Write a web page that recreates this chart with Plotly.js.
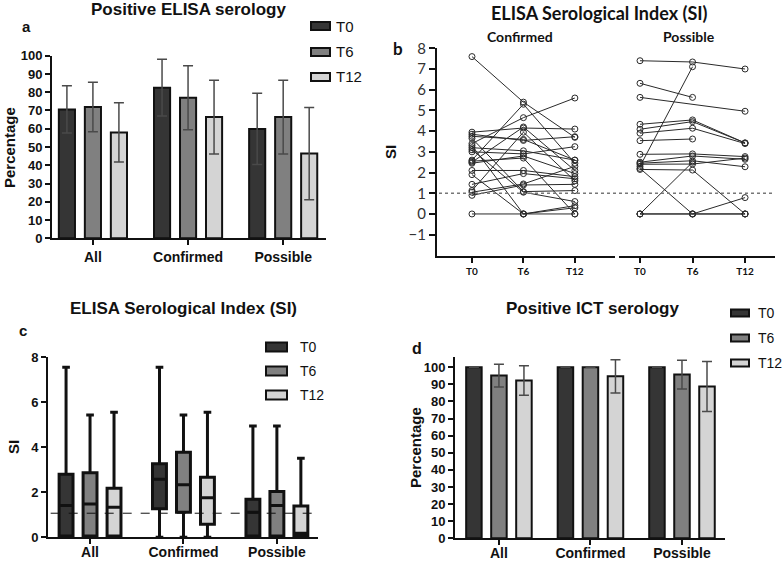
<!DOCTYPE html>
<html>
<head>
<meta charset="utf-8">
<script src="https://cdn.plot.ly/plotly-3.0.1.min.js"></script>
<style>html,body{margin:0;padding:0;background:#fff;}#chart{width:784px;height:561px;}</style>
</head>
<body>
<div id="chart"></div>
<script>
// ---------- data ----------
const groups = ['All', 'Confirmed', 'Possible'];
const timepoints = ['T0', 'T6', 'T12'];

// Panel a: Positive ELISA serology (%)
const elisaT0 = [70.6, 82.5, 59.9];
const elisaT0Err = [13.0, 15.5, 19.5];
const elisaT6 = [71.9, 77.0, 66.4];
const elisaT6Err = [13.5, 17.5, 20.2];
const elisaT12 = [58.0, 66.4, 46.4];
const elisaT12Err = [16.2, 20.2, 25.3];

// Panel d: Positive ICT serology (%)
const ictT0 = [100, 100, 100];
const ictT0Err = [0, 0, 0];
const ictT6 = [95.1, 100, 95.7];
const ictT6Err = [6.6, 0, 8.4];
const ictT12 = [92.2, 94.7, 88.7];
const ictT12Err = [8.6, 9.7, 14.6];

// Panel c: SI box plots (lower whisker, q1, median, q3, upper whisker)
const boxT0Low = [0, 0, 0];
const boxT0Q1 = [0.06, 1.27, 0.06];
const boxT0Med = [1.41, 2.58, 1.11];
const boxT0Q3 = [2.80, 3.27, 1.69];
const boxT0High = [7.56, 7.56, 4.95];
const boxT6Low = [0, 0, 0];
const boxT6Q1 = [0.06, 1.11, 0.06];
const boxT6Med = [1.48, 2.33, 1.41];
const boxT6Q3 = [2.87, 3.78, 2.03];
const boxT6High = [5.44, 5.44, 4.95];
const boxT12Low = [0, 0, 0];
const boxT12Q1 = [0.06, 0.58, 0.06];
const boxT12Med = [1.33, 1.76, 0.18];
const boxT12Q3 = [2.18, 2.67, 1.39];
const boxT12High = [5.56, 5.56, 3.51];
const siCutoffC = 1.07;

// Panel b: individual SI trajectories
const confT0 = [7.6, 3.95, 3.85, 3.75, 3.65, 3.4, 3.3, 3.1, 3.0, 2.6, 2.5, 2.45, 2.1, 1.9, 1.43, 1.13, 1.05, 0.9, 0, 2.55, 3.2];
const confT6 = [5.4, 4.15, 3.55, 3.6, 1.08, 4.65, 0, 1.05, 2.9, 5.3, 4.2, 2.8, 2.1, 0, 1.95, 3.95, 1.45, 1.4, 0, 2.7, 3.05];
const confT12 = [3.7, 4.1, 3.73, 2.6, 1.13, 5.6, 0.4, 0.6, 3.25, 2.45, 2.1, 1.95, 1.8, 0.3, 1.7, 1.6, 2.3, 1.43, 0, 0, 2.6];
const possT0 = [7.4, 6.31, 5.63, 4.33, 4.09, 3.9, 3.54, 2.88, 2.5, 2.45, 2.4, 2.3, 2.2, 2.15, 0, 0, 0];
const possT6 = [7.34, 5.63, null, 4.54, 4.46, 4.14, 3.62, 2.9, 2.8, 2.57, 2.41, 7.11, 0, 2.12, 2.5, 0, 0];
const possT12 = [7.0, null, 4.96, 3.43, 3.43, 3.40, null, 2.77, 2.64, 2.28, 2.7, null, 0, 0, null, 0.79, 0];
const siCutoffB = 1.0;

// ---------- styles ----------
const fills = ['#353535', '#808080', '#d4d4d4'];
const AR = 'Liberation Sans, Arial, sans-serif';
const CAL = 'Lato, Carlito, sans-serif';
const traces = [];

function barSet(vals, errs, xa, ya) {
  vals.forEach((v, i) => {
    traces.push({
      type: 'bar', x: groups, y: v, name: timepoints[i], xaxis: xa, yaxis: ya,
      marker: {color: fills[i], line: {color: '#111', width: 2}},
      error_y: {type: 'data', array: errs[i], visible: true, color: '#4a4a4a', thickness: 1.5, width: 5},
      showlegend: false, hoverinfo: 'skip'
    });
  });
}
barSet([elisaT0, elisaT6, elisaT12], [elisaT0Err, elisaT6Err, elisaT12Err], 'x', 'y');
barSet([ictT0, ictT6, ictT12], [ictT0Err, ictT6Err, ictT12Err], 'x5', 'y5');

const boxes = [
  [boxT0Low, boxT0Q1, boxT0Med, boxT0Q3, boxT0High],
  [boxT6Low, boxT6Q1, boxT6Med, boxT6Q3, boxT6High],
  [boxT12Low, boxT12Q1, boxT12Med, boxT12Q3, boxT12High]
];
boxes.forEach((b, i) => {
  traces.push({
    type: 'box', x: groups, lowerfence: b[0], q1: b[1], median: b[2], q3: b[3], upperfence: b[4],
    name: timepoints[i], xaxis: 'x4', yaxis: 'y4', fillcolor: fills[i],
    line: {color: '#111', width: 3}, whiskerwidth: 0.55, boxpoints: false,
    showlegend: false, hoverinfo: 'skip'
  });
});

function spaghetti(t0, t6, t12, xa) {
  t0.forEach((v, i) => {
    traces.push({
      type: 'scatter', mode: 'lines+markers', x: timepoints, y: [t0[i], t6[i], t12[i]],
      xaxis: xa, yaxis: 'y2', connectgaps: true,
      line: {color: '#2a2a2a', width: 1},
      marker: {symbol: 'circle-open', size: 6, color: '#2a2a2a', line: {width: 1}},
      showlegend: false, hoverinfo: 'skip', cliponaxis: false
    });
  });
}
spaghetti(confT0, confT6, confT12, 'x2');
spaghetti(possT0, possT6, possT12, 'x3');

// ---------- layout ----------
const W = 784, H = 561;
const px = v => v / W, py = v => 1 - v / H;

const baseAx = {
  showline: true, linecolor: '#111', linewidth: 2, ticks: 'outside', ticklen: 5, tickwidth: 2,
  tickcolor: '#111', showgrid: false, zeroline: false, fixedrange: true
};
const catX = (dom, anchor, range, size, standoff) => Object.assign({}, baseAx, {
  domain: dom, anchor: anchor, type: 'category', range: range, ticklabelstandoff: standoff,
  tickfont: {family: AR, size: size, color: '#111', weight: 'bold'}
});

const layout = {
  width: W, height: H, margin: {l: 0, r: 0, t: 0, b: 0},
  paper_bgcolor: '#fff', plot_bgcolor: 'rgba(0,0,0,0)', showlegend: false,
  barmode: 'group', bargap: 0.18, bargroupgap: 0.38,
  boxmode: 'group', boxgap: 0.23, boxgroupgap: 0.42,
  xaxis: catX([px(52), px(326)], 'y', [-0.43, 2.45], 14, 0),
  yaxis: Object.assign({}, baseAx, {domain: [py(238.3), py(55.7)], anchor: 'x', range: [0, 100], dtick: 10,
    tickfont: {family: AR, size: 13, color: '#111', weight: 'bold'}}),
  xaxis2: Object.assign({}, baseAx, {domain: [px(437), px(615)], anchor: 'y2', type: 'category', range: [-0.68, 2.78],
    tickfont: {family: CAL, size: 10, color: '#111', weight: 'bold'}}),
  xaxis3: Object.assign({}, baseAx, {domain: [px(619), px(775)], anchor: 'y2', type: 'category', range: [-0.4, 2.57],
    tickfont: {family: CAL, size: 10, color: '#111', weight: 'bold'}}),
  yaxis2: Object.assign({}, baseAx, {domain: [py(256), py(48.3)], anchor: 'x2', range: [-2.03, 8],
    tickvals: [-1, 0, 1, 2, 3, 4, 5, 6, 7, 8], ticklen: 6,
    tickfont: {family: CAL, size: 15, color: '#333'}}),
  xaxis4: catX([px(48), px(318)], 'y4', [-0.45, 2.44], 14, -4),
  yaxis4: Object.assign({}, baseAx, {domain: [py(537.3), py(357.3)], anchor: 'x4', range: [0, 8], dtick: 2,
    tickfont: {family: AR, size: 13, color: '#111', weight: 'bold'}}),
  xaxis5: catX([px(455), px(725)], 'y5', [-0.48, 2.47], 14, -4),
  yaxis5: Object.assign({}, baseAx, {domain: [py(538.3), py(357.3)], anchor: 'x5', range: [0, 105.8],
    tickvals: [0, 10, 20, 30, 40, 50, 60, 70, 80, 90, 100],
    tickfont: {family: AR, size: 13, color: '#111', weight: 'bold'}}),
  shapes: [], annotations: []
};

// cutoff lines
layout.shapes.push({type: 'line', xref: 'paper', x0: px(439), x1: px(775), yref: 'y2', y0: siCutoffB, y1: siCutoffB,
  line: {color: '#777', width: 1.3, dash: 'dot'}});
layout.shapes.push({type: 'line', xref: 'x4 domain', x0: 0.01, x1: 0.99, yref: 'y4', y0: siCutoffC, y1: siCutoffC,
  line: {color: '#111', width: 1, dash: 'dash'}});

// legends (drawn)
function legend(x0, w, h, ys, tx, size) {
  timepoints.forEach((t, i) => {
    layout.shapes.push({type: 'rect', xref: 'paper', yref: 'paper', x0: px(x0), x1: px(x0 + w),
      y0: py(ys[i] + h / 2), y1: py(ys[i] - h / 2), fillcolor: fills[i], line: {color: '#111', width: 2}});
    layout.annotations.push({xref: 'paper', yref: 'paper', x: px(tx), y: py(ys[i]), xanchor: 'left', yanchor: 'middle',
      text: t, showarrow: false, font: {family: AR, size: size, color: '#111'}});
  });
}
legend(311, 19, 8, [26, 52, 77], 334, 15);
legend(266, 21, 9, [347, 371, 395], 298, 14);
legend(731, 18, 7, [313, 338, 363], 756, 14);

function txt(x, y, text, size, opts) {
  layout.annotations.push(Object.assign({xref: 'paper', yref: 'paper', x: px(x), y: py(y), xanchor: 'center', yanchor: 'middle',
    text: text, showarrow: false, font: {family: AR, size: size, color: '#111', weight: 'bold'}}, opts || {}));
}
// titles
txt(188, 10, 'Positive ELISA serology', 17);
txt(599, 13, 'ELISA Serological Index (SI)', 18, {font: {family: CAL, size: 18, color: '#111', weight: 'bold'}});
txt(520, 36, 'Confirmed', 14, {font: {family: CAL, size: 14, color: '#111', weight: 'bold'}});
txt(689, 36, 'Possible', 14, {font: {family: CAL, size: 14, color: '#111', weight: 'bold'}});
txt(183, 308, 'ELISA Serological Index (SI)', 17);
txt(592, 308, 'Positive ICT serology', 17);
// panel letters
txt(27, 26, 'a', 15);
txt(398, 48, 'b', 16, {font: {family: CAL, size: 17, color: '#111', weight: 'bold'}});
txt(23, 330, 'c', 15);
txt(417, 348, 'd', 16);
// axis titles
txt(9, 148, 'Percentage', 15, {textangle: -90});
txt(390, 152, 'SI', 15, {textangle: -90});
txt(13, 447, 'SI', 15, {textangle: -90});
txt(415, 448, 'Percentage', 15, {textangle: -90});

Plotly.newPlot('chart', traces, layout, {staticPlot: true, displayModeBar: false});
</script>
</body>
</html>
